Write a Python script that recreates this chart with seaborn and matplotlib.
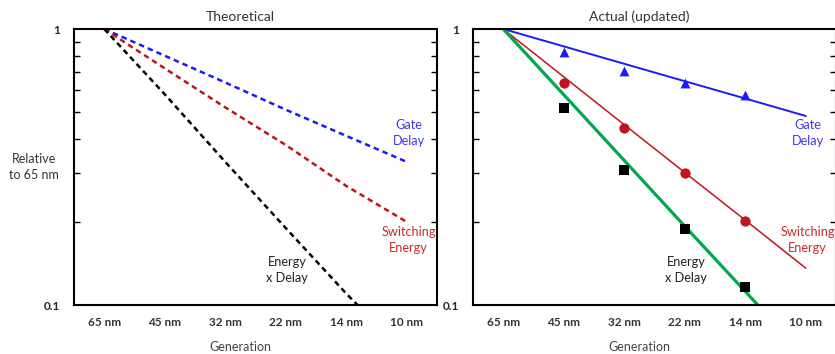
import numpy as np
import pandas as pd
import matplotlib
matplotlib.use('Agg')
import matplotlib.pyplot as plt
import seaborn as sns
from matplotlib.ticker import FixedLocator, NullFormatter, FixedFormatter

# generations on the x axis
generations = ['65 nm', '45 nm', '32 nm', '22 nm', '14 nm', '10 nm']

# theoretical scaling (relative to 65 nm)
theo_gate = [1.0, 0.80, 0.64, 0.51, 0.41, 0.33]
theo_switch = [1.0, 0.72, 0.52, 0.38, 0.27, 0.20]
theo_exd = [1.0, 0.58, 0.33, 0.19, 0.11, 0.066]

# actual measured points (45 nm .. 14 nm)
act_gens = ['45 nm', '32 nm', '22 nm', '14 nm']
act_gate = [0.826, 0.705, 0.637, 0.577]
act_switch = [0.637, 0.438, 0.301, 0.201]
act_exd = [0.517, 0.309, 0.189, 0.116]

# trend lines in the actual panel
trend_gate = [1.0, 0.865, 0.748, 0.647, 0.560, 0.484]
trend_switch = [1.0, 0.671, 0.450, 0.302, 0.203, 0.136]
trend_exd = [1.0, 0.578, 0.334, 0.193, 0.112, 0.065]

sns.set_style('white')
plt.rcParams['font.family'] = ['Lato', 'DejaVu Sans']

BLUE = '#1a1aff'
RED = '#c0141e'
GREEN = '#00a84f'
TXT_BLUE = '#3a3af0'
TXT_RED = '#cc2a2a'

pos = {g: i for i, g in enumerate(generations)}

theo = pd.DataFrame({'x': range(len(generations)), 'gate': theo_gate,
                     'switch': theo_switch, 'exd': theo_exd})
trend = pd.DataFrame({'x': range(len(generations)), 'gate': trend_gate,
                      'switch': trend_switch, 'exd': trend_exd})
act = pd.DataFrame({'x': [pos[g] for g in act_gens], 'gate': act_gate,
                    'switch': act_switch, 'exd': act_exd})

fig = plt.figure(figsize=(8.35, 3.54), dpi=100)
ax1 = fig.add_axes([74/835, 1-305/354, 363/835, 276/354])
ax2 = fig.add_axes([473/835, 1-305/354, 363/835, 276/354])

LBL = 9.2


def style_axis(ax, title, ylab):
    ax.set_yscale('log')
    ax.set_ylim(0.1, 1)
    ax.set_xlim(-0.5, 5.5)
    ax.set_xticks(range(len(generations)))
    ax.set_xticklabels(generations, fontsize=8.5, fontweight='bold', color='#333333')
    ax.tick_params(axis='x', length=0, pad=9)
    ax.yaxis.set_major_locator(FixedLocator([0.1, 1]))
    ax.yaxis.set_major_formatter(FixedFormatter(['0.1', '1']))
    ax.yaxis.set_minor_locator(FixedLocator([0.2, 0.3, 0.4, 0.5, 0.6, 0.7, 0.8, 0.9]))
    ax.yaxis.set_minor_formatter(NullFormatter())
    ax.tick_params(axis='y', which='both', direction='in', right=True, left=True,
                   labelsize=8.5, pad=10)
    ax.tick_params(axis='y', which='minor', length=4, width=1, color='black')
    ax.tick_params(axis='y', which='major', length=0)
    for lab in ax.get_yticklabels():
        lab.set_fontweight('bold')
    for s in ax.spines.values():
        s.set_color('black')
        s.set_linewidth(1.5)
    ax.set_xlabel('')
    ax.set_ylabel('')
    ax.text(0.457, 1.045, title, transform=ax.transAxes, ha='center', va='center',
            fontsize=10, color='#333333')
    ax.text(0.457, -0.152, 'Generation', transform=ax.transAxes, ha='center',
            va='center', fontsize=9, color='#444444')
    if ylab:
        ax.text(-0.11, 0.5, ylab, transform=ax.transAxes, ha='center', va='center',
                fontsize=9, color='#333333', linespacing=1.45)


def add_labels(ax):
    ax.text(5.03, 0.42, 'Gate\nDelay', color=TXT_BLUE, ha='center', va='center',
            fontsize=LBL, linespacing=1.35)
    ax.text(5.03, 0.172, 'Switching\nEnergy', color=TXT_RED, ha='center', va='center',
            fontsize=LBL, linespacing=1.35)
    ax.text(3.02, 0.134, 'Energy\nx Delay', color='#222222', ha='center', va='center',
            fontsize=LBL, linespacing=1.35)


# --- theoretical panel
for col, c in [('gate', BLUE), ('switch', RED), ('exd', 'black')]:
    sns.lineplot(data=theo, x='x', y=col, ax=ax1, color=c, linewidth=1.8)
    ax1.lines[-1].set_dashes((2.2, 1.6))
style_axis(ax1, 'Theoretical', 'Relative\nto 65 nm')
add_labels(ax1)

# --- actual panel
sns.lineplot(data=trend, x='x', y='gate', ax=ax2, color=BLUE, linewidth=1.4)
sns.lineplot(data=trend, x='x', y='switch', ax=ax2, color=RED, linewidth=1.1)
sns.lineplot(data=trend, x='x', y='exd', ax=ax2, color=GREEN, linewidth=2.3)
sns.scatterplot(data=act, x='x', y='gate', ax=ax2, color=BLUE, marker='^',
                s=50, linewidth=0, zorder=5)
sns.scatterplot(data=act, x='x', y='switch', ax=ax2, color=RED, marker='o',
                s=55, linewidth=0, zorder=5)
sns.scatterplot(data=act, x='x', y='exd', ax=ax2, color='black', marker='s',
                s=55, linewidth=0, zorder=5)
style_axis(ax2, 'Actual (updated)', None)
add_labels(ax2)

fig.savefig('out.png', dpi=100)
